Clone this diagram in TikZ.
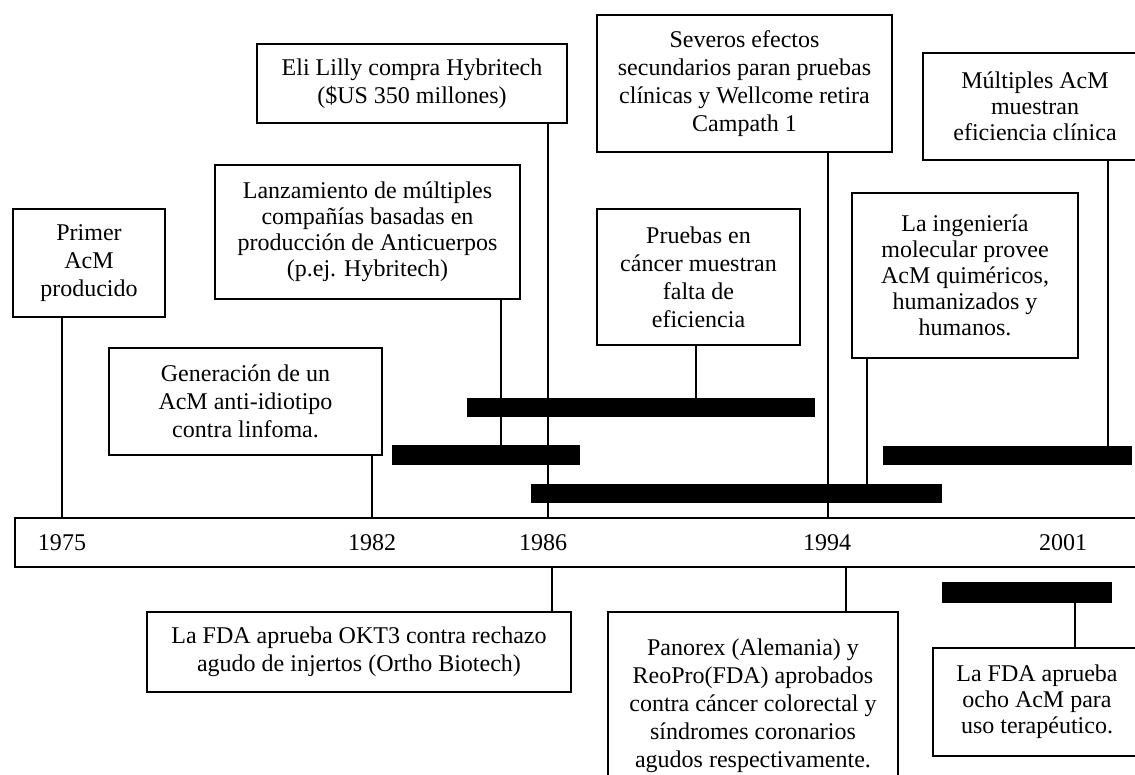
\documentclass[tikz,border=0pt]{standalone}
\usepackage{fontspec}
\setmainfont{Liberation Serif}
\begin{document}
\begin{tikzpicture}[x=0.5pt,y=-0.5pt,
  every node/.style={font=\fontsize{12pt}{14pt}\selectfont},
  event/.style={draw, line width=0.9pt, align=center, inner sep=0pt, fill=white},
  tight/.style={font=\fontsize{12pt}{13pt}\selectfont},
  bar/.style={fill=black, draw=none, inner sep=0pt},
  link/.style={line width=0.9pt},
  year/.style={inner sep=0pt}]
\path[use as bounding box] (0,0) rectangle (1135,775);
\clip (0,0) rectangle (1135,775);

% time axis
\node[draw, line width=0.9pt, inner sep=0pt, minimum width=567.5pt, minimum height=24.5pt] (axis) at (582.5,542.5) {};
\node[year] (y1975) at (62,543) {1975};
\node[year] (y1982) at (372,543) {1982};
\node[year] (y1986) at (543,543) {1986};
\node[year] (y1994) at (827,543) {1994};
\node[year] (y2001) at (1063,543) {2001};

% period bars
\node[bar, minimum width=174pt, minimum height=9.5pt] (bar1) at (641,407.5) {};
\node[bar, minimum width=94pt, minimum height=10pt] (bar2) at (486,455) {};
\node[bar, minimum width=205.5pt, minimum height=9.5pt] (bar3) at (736.5,493.5) {};
\node[bar, minimum width=124.5pt, minimum height=9.5pt] (bar4) at (1007.5,455.5) {};
\node[bar, minimum width=85pt, minimum height=10.5pt] (bar5) at (1027,592.5) {};

% events above the axis
\node[event, minimum width=76pt, minimum height=54pt] (prim) at (89,263) {Primer\\AcM\\producido};
\node[event, minimum width=136.5pt, minimum height=53.5pt] (gen) at (245.5,401.5) {Generación de un\\AcM anti-idiotipo\\contra linfoma.};
\node[event, tight, minimum width=152.5pt, minimum height=67pt] (lanz) at (367.5,232) {Lanzamiento de múltiples\\compañías basadas en\\producción de Anticuerpos\\(p.ej. Hybritech)};
\node[event, minimum width=155pt, minimum height=39.5pt] (eli) at (412,83.5) {Eli Lilly compra Hybritech\\(\$US 350 millones)};
\node[event, minimum width=147.5pt, minimum height=68.5pt] (sev) at (744.5,83.5) {Severos efectos\\secundarios paran pruebas\\clínicas y Wellcome retira\\Campath 1};
\node[event, minimum width=101.5pt, minimum height=68pt] (prue) at (698.5,277) {Pruebas en\\cáncer muestran\\falta de\\eficiencia};
\node[event, tight, minimum width=112pt, minimum height=53.5pt] (mult) at (1035,106.5) {Múltiples AcM\\muestran\\eficiencia clínica};
\node[event, tight, minimum width=113pt, minimum height=82.5pt] (ing) at (965,275.5) {La ingeniería\\molecular provee\\AcM quiméricos,\\humanizados y\\humanos.};

% events below the axis
\node[event, minimum width=212pt, minimum height=40pt] (okt) at (359,652) {La FDA aprueba OKT3 contra rechazo\\agudo de injertos (Ortho Biotech)};
\node[event, minimum width=145pt, minimum height=94pt] (pan) at (753,706) {Panorex (Alemania) y\\ReoPro(FDA) aprobados\\contra cáncer colorectal y\\síndromes coronarios\\agudos respectivamente.};
\node[event, tight, minimum width=104pt, minimum height=54pt] (ocho) at (1037,702) {La FDA aprueba\\ocho AcM para\\uso terapéutico.};

% x positions of the leader lines
\coordinate (xprim) at (62,0);
\coordinate (xgen) at (372,0);
\coordinate (xlanz) at (501,0);
\coordinate (xeli) at (548,0);
\coordinate (xprue) at (696,0);
\coordinate (xsev) at (828,0);
\coordinate (xing) at (867,0);
\coordinate (xmult) at (1108,0);
\coordinate (xokt) at (552,0);
\coordinate (xpan) at (846,0);
\coordinate (xocho) at (1075,0);

% leader lines
\draw[link] (prim.south -| xprim) -- (axis.north -| xprim);
\draw[link] (gen.south -| xgen) -- (axis.north -| xgen);
\draw[link] (lanz.south -| xlanz) -- (bar2.north -| xlanz);
\draw[link] (eli.south -| xeli) -- (axis.north -| xeli);
\draw[link] (prue.south -| xprue) -- (bar1.north -| xprue);
\draw[link] (sev.south -| xsev) -- (axis.north -| xsev);
\draw[link] (ing.south -| xing) -- (bar3.north -| xing);
\draw[link] (mult.south -| xmult) -- (bar4.north -| xmult);
\draw[link] (axis.south -| xokt) -- (okt.north -| xokt);
\draw[link] (axis.south -| xpan) -- (pan.north -| xpan);
\draw[link] (bar5.south -| xocho) -- (ocho.north -| xocho);
\end{tikzpicture}
\end{document}
